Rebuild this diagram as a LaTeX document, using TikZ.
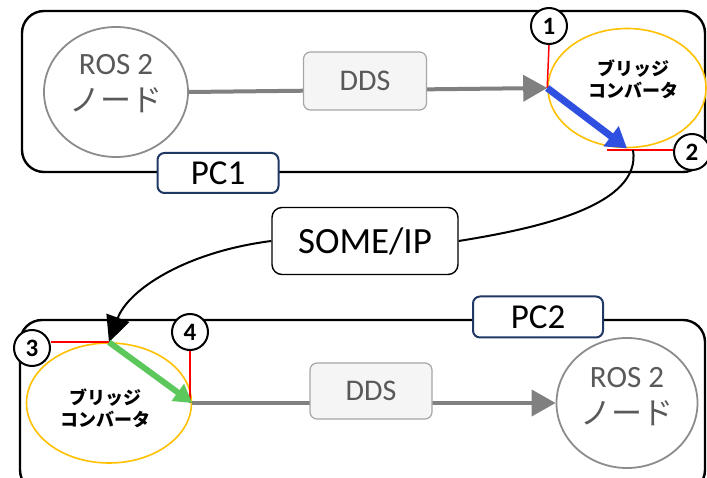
\documentclass[tikz,border=0pt]{standalone}
\usepackage{fontspec}
\setmainfont{Carlito}
\newfontfamily\jpfont{Noto Sans CJK JP}
\usetikzlibrary{arrows.meta,shapes.geometric}
\definecolor{nodegray}{HTML}{8C8C8C}
\definecolor{textgray}{HTML}{595959}
\definecolor{arrowgray}{HTML}{808080}
\definecolor{ddsfill}{HTML}{F5F5F5}
\definecolor{ddsline}{HTML}{A6A6A6}
\definecolor{bridgeorange}{HTML}{FFC000}
\definecolor{pcnavy}{HTML}{1F3864}
\definecolor{flowblue}{HTML}{2F4FE0}
\definecolor{flowgreen}{HTML}{5CC85C}
\begin{document}
\begin{tikzpicture}[x=1pt,y=-1pt,
  pcframe/.style={draw=black,line width=2.4pt,rounded corners=22pt},
  rosnode/.style={ellipse,draw=nodegray,line width=1.8pt,fill=white,
    minimum width=144pt,minimum height=130pt,inner sep=0pt,align=center,
    text=textgray,font=\fontsize{31}{37}\selectfont},
  bridge/.style={ellipse,draw=bridgeorange,line width=1.6pt,fill=white,inner sep=0pt},
  bridgetext/.style={align=center,font=\jpfont\bfseries\fontsize{18}{22}\selectfont},
  ddsbox/.style={draw=ddsline,fill=ddsfill,line width=1.2pt,rounded corners=7pt,
    text=textgray,font=\fontsize{30}{34}\selectfont},
  pclabel/.style={draw=pcnavy,fill=white,line width=2pt,rounded corners=7pt,
    font=\fontsize{35}{38}\selectfont},
  someipbox/.style={draw=black,fill=white,line width=1.4pt,rounded corners=10pt,
    minimum width=186pt,minimum height=67pt,font=\fontsize{37}{40}\selectfont},
  numcircle/.style={circle,draw=black,line width=2pt,fill=white,minimum size=36pt,
    inner sep=0pt,font=\bfseries\fontsize{25}{28}\selectfont},
  redline/.style={draw=red,line width=1.5pt},
  grayarrow/.style={draw=arrowgray,line width=4pt,-{Triangle[length=24pt,width=26pt]}},
  link/.style={draw=black,line width=2pt},
]
\useasboundingbox (0,0) rectangle (707,478);
\clip (0,0) rectangle (707,478);

% PC frames
\draw[pcframe] (22,11) rectangle (705,172);
\draw[pcframe] (20,320) rectangle (705,492);

% ---- PC1 ----
\node[rosnode] (ros1) at (116,92) {};
\node[text=textgray,align=center,font=\fontsize{31}{37}\selectfont] (ros1t) at (116,84) {ROS 2\\{\jpfont ノード}};
\node[bridge,minimum width=158pt,minimum height=119pt] (br1) at (627,88) {};
\node[bridgetext] (br1t) at (633,79) {ブリッジ\\コンバータ};
\draw[grayarrow] (ros1.east) -- (br1.west);
\node[ddsbox,minimum width=123pt,minimum height=58pt] (dds1) at (365,81) {DDS};

\node[numcircle] (n1) at (549,26) {1};
\draw[redline] (n1.south) -- (br1.west);
\draw[draw=flowblue,line width=7pt,-{Triangle[length=20pt,width=24pt]}] (br1.west) -- (br1.south);

\coordinate (r2) at (607,150);
\node[numcircle] (n2) at (692,152) {2};
\draw[redline] (r2) -- (r2 -| n2.west);

\node[pclabel,minimum width=121pt,minimum height=40pt] (pc1) at (218,173) {PC1};

% ---- SOME/IP link ----
\node[someipbox] (someip) at (365,241) {SOME/IP};
\coordinate (c1) at (633,150);
\draw[link] (c1) .. controls (642,205) and (540,228) .. (someip.east);

% ---- PC2 ----
\node[bridge,minimum width=165pt,minimum height=120pt] (br2) at (109,403) {};
\node[bridgetext] (br2t) at (105,408) {ブリッジ\\コンバータ};
\node[rosnode,minimum width=141pt] (ros2) at (627,403) {};
\node[text=textgray,align=center,font=\fontsize{31}{37}\selectfont] (ros2t) at (627,397) {ROS 2\\{\jpfont ノード}};
\draw[grayarrow] (br2.east) -- (ros2.west);
\node[ddsbox,minimum width=122pt,minimum height=56pt] (dds2) at (371,391) {DDS};

\draw[link,-{Triangle[length=26pt,width=24pt]}] (someip.west) .. controls (185,252) and (128,290) .. (br2.north);

\node[numcircle] (n3) at (32,348) {3};
\draw[redline] (n3.east |- br2.north) -- (br2.north);
\node[numcircle] (n4) at (190,332) {4};
\draw[redline] (n4.south) -- (n4.south |- br2.east);
\draw[draw=flowgreen,line width=6pt,-{Triangle[length=18pt,width=20pt]}] (br2.north) -- (br2.east);

\node[pclabel,minimum width=130pt,minimum height=41pt] (pc2) at (538,317) {PC2};
\end{tikzpicture}
\end{document}
